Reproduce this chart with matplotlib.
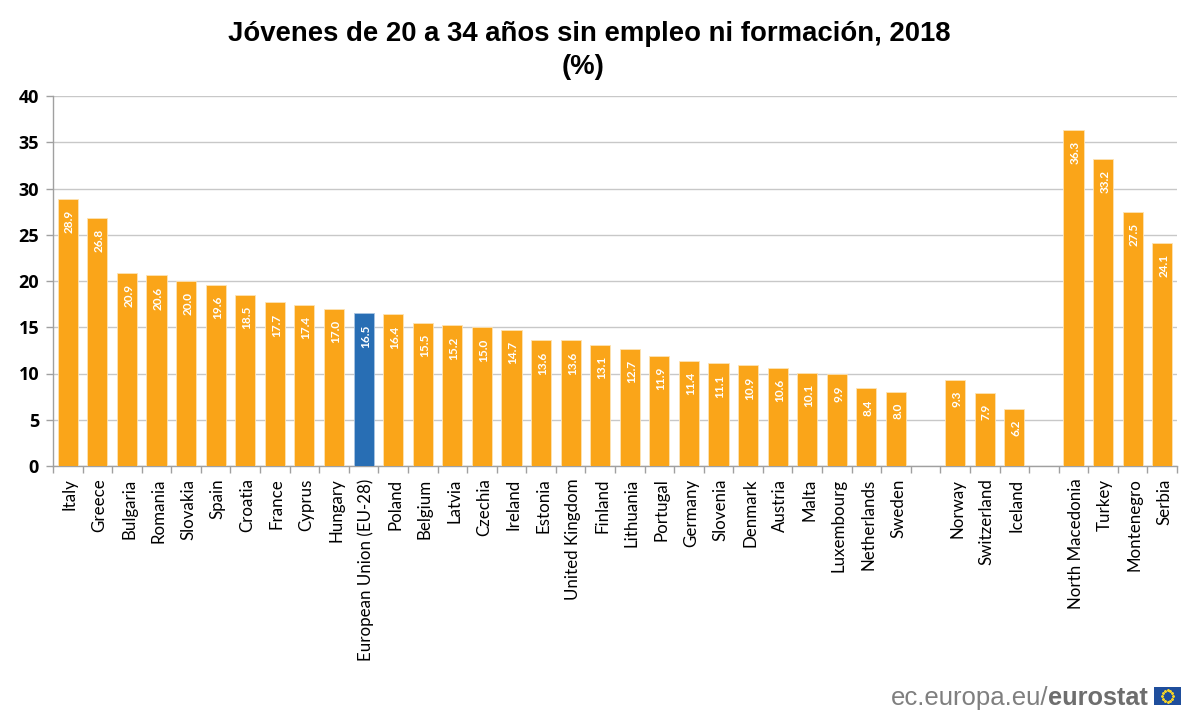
import numpy as np
import matplotlib
matplotlib.use('Agg')
import matplotlib.pyplot as plt
from matplotlib.transforms import ScaledTranslation

# Datos (None = hueco entre grupos)
paises = ['Italy', 'Greece', 'Bulgaria', 'Romania', 'Slovakia', 'Spain', 'Croatia', 'France',
          'Cyprus', 'Hungary', 'European Union (EU-28)', 'Poland', 'Belgium', 'Latvia', 'Czechia',
          'Ireland', 'Estonia', 'United Kingdom', 'Finland', 'Lithuania', 'Portugal', 'Germany',
          'Slovenia', 'Denmark', 'Austria', 'Malta', 'Luxembourg', 'Netherlands', 'Sweden', '',
          'Norway', 'Switzerland', 'Iceland', '', 'North Macedonia', 'Turkey', 'Montenegro', 'Serbia']
valores = [28.9, 26.8, 20.9, 20.6, 20.0, 19.6, 18.5, 17.7, 17.4, 17.0, 16.5, 16.4, 15.5, 15.2, 15.0,
           14.7, 13.6, 13.6, 13.1, 12.7, 11.9, 11.4, 11.1, 10.9, 10.6, 10.1, 9.9, 8.4, 8.0, None,
           9.3, 7.9, 6.2, None, 36.3, 33.2, 27.5, 24.1]
ticks_y = [0, 5, 10, 15, 20, 25, 30, 35, 40]

NARANJA = '#FAA519'
AZUL = '#286EB4'
W, H = 1199, 724

fig = plt.figure(figsize=(W / 100, H / 100), dpi=100, facecolor='white')
ax = fig.add_axes([53 / W, 1 - 466 / H, (1177 - 53) / W, (466 - 96) / H])

x = np.arange(len(paises))
for xi, nombre, v in zip(x, paises, valores):
    if v is None:
        continue
    color = AZUL if nombre.startswith('European') else NARANJA
    ax.bar(xi, v, width=0.68, color=color, edgecolor='#FDE3B5' if color == NARANJA else '#A9C5E2',
           linewidth=0.6, zorder=3)
    ax.annotate(f'{v:.1f}', (xi, v), xytext=(1.2, -8), textcoords='offset points', rotation=90,
                ha='center', va='top', color='white', fontsize=8.5, fontweight='bold',
                family='Lato', zorder=4)

ax.set_xlim(-0.5, len(paises) - 0.5)
ax.set_ylim(0, 40)
ax.set_yticks(ticks_y)
ax.set_yticklabels([str(t) for t in ticks_y], fontsize=13, fontweight='bold', family='Open Sans')
ax.yaxis.grid(True, color='#C8C8C8', linewidth=1, zorder=0)
ax.set_axisbelow(True)

# Marcas del eje x en los limites de cada categoria
ax.set_xticks(np.arange(len(paises) + 1) - 0.5)
ax.set_xticklabels([])
ax.set_xticks(x, minor=True)
etiquetas = ax.set_xticklabels(paises, minor=True, rotation=90, fontsize=12.2, family='Lato', color='black')
ax.tick_params(axis='x', which='minor', length=0, pad=9)
ax.tick_params(axis='x', which='major', length=5, width=1, color='#A0A0A0')
ax.tick_params(axis='y', length=5, width=1, color='#A0A0A0', pad=5)

# Las etiquetas del original van un poco a la derecha del centro de la barra
desplaza = ScaledTranslation(1.5 / 72, 0, fig.dpi_scale_trans)
for t in etiquetas:
    t.set_transform(t.get_transform() + desplaza)

for lado in ['top', 'right']:
    ax.spines[lado].set_visible(False)
for lado in ['left', 'bottom']:
    ax.spines[lado].set_color('#A0A0A0')
    ax.spines[lado].set_linewidth(1)

fig.text(589 / W, 1 - 34 / H, 'Jóvenes de 20 a 34 años sin empleo ni formación, 2018', ha='center',
         va='center', fontsize=19.8, fontweight='bold', family='Liberation Sans')
fig.text(583 / W, 1 - 67 / H, '(%)', ha='center', va='center', fontsize=19.8, fontweight='bold',
         family='Liberation Sans')

# Pie con el logo de Eurostat
fig.text(1048 / W, 1 - 698 / H, 'ec.europa.eu/', ha='right', va='center', fontsize=18.5,
         color='#7F7F7F', family='Liberation Sans')
fig.text(1048 / W, 1 - 698 / H, 'eurostat', ha='left', va='center', fontsize=18.3, fontweight='bold',
         color='#6E6E6E', family='Liberation Sans')

bandera = fig.add_axes([1154 / W, 1 - 705 / H, 27 / W, 18 / H])
bandera.set_facecolor('#1F4E9C')
ang = np.linspace(0, 2 * np.pi, 12, endpoint=False)
bandera.scatter(np.cos(ang) * 0.62, np.sin(ang) * 0.62, s=1.5, color='#F5D327', marker='*')
bandera.set_xlim(-1.5, 1.5)
bandera.set_ylim(-1, 1)
bandera.set_xticks([])
bandera.set_yticks([])
for s in bandera.spines.values():
    s.set_visible(False)

fig.savefig('out.png', dpi=100)
